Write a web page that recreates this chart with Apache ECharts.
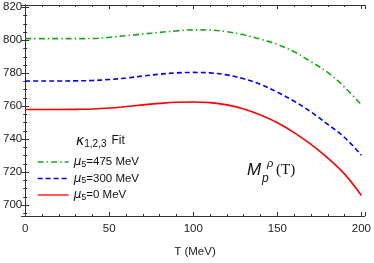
<!DOCTYPE html>
<html><head><meta charset="utf-8">
<script src="https://cdn.jsdelivr.net/npm/echarts@6/dist/echarts.min.js"></script>
<style>html,body{margin:0;padding:0;background:#fff}#c{width:374px;height:263px}</style>
</head><body><div id="c"></div>
<script>
const temps = [0,10,20,30,40,50,60,70,80,90,100,110,120,130,140,150,160,170,180,190,200];
const mu475 = [801,801,801,801,801.1,801.8,802.8,803.8,804.8,805.7,806.3,806.2,805.2,803.3,800.7,797.5,793,787,780.5,771.5,760.8];
const mu300 = [775.3,775.3,775.3,775.4,775.6,776.2,777.1,778.3,779.4,780.2,780.5,780.2,779,776.6,773.2,768.5,763,756.5,749,741,730.3];
const mu0   = [758,758,758,758.1,758.3,758.9,759.8,760.8,761.7,762.4,762.6,762.2,760.8,758.3,754.7,750,744,736.8,728.5,718.8,705.8];
const seriesNames = ['μ5=475 MeV','μ5=300 MeV','μ5=0 MeV'];
const legendValues = ['=475 MeV','=300 MeV','=0 MeV'];
const xTitle = 'T (MeV)';

const pairs = a => temps.map((t,i)=>[t,a[i]]);
const font = 'Liberation Sans, Arial, sans-serif';
const chart = echarts.init(document.getElementById('c'));
chart.setOption({
  animation:false,
  grid:{left:24,right:7,top:5,bottom:44,containLabel:false},
  title:[
    {text:'{k|κ}{s|1,2,3}{f|Fit}',left:76,top:133,padding:0,textStyle:{fontWeight:'normal',rich:{
      k:{fontSize:14,fontFamily:'DejaVu Sans',fontStyle:'italic',fontWeight:'normal',color:'#111'},
      s:{fontSize:10,fontFamily:font,fontWeight:'normal',color:'#111',padding:[6,0,0,0]},
      f:{fontSize:12,fontFamily:font,fontWeight:'normal',color:'#111',padding:[0,0,0,5]}}}},
    {text:'M',left:247,top:162,padding:0,textStyle:{fontSize:17,fontStyle:'italic',fontFamily:font,color:'#111',fontWeight:'normal'}},
    {text:'ρ',left:267,top:158,padding:0,textStyle:{fontSize:11,fontStyle:'italic',fontFamily:font,color:'#111',fontWeight:'normal'}},
    {text:'p',left:262,top:173,padding:0,textStyle:{fontSize:12,fontStyle:'italic',fontFamily:font,color:'#111',fontWeight:'normal'}},
    {text:'(T)',left:276,top:163,padding:0,textStyle:{fontSize:15,fontFamily:'Liberation Serif, serif',color:'#111',fontWeight:'normal'}}
  ],
  legend:{
    orient:'vertical',left:37,top:156,itemWidth:31,itemHeight:14,itemGap:3.5,padding:0,
    data:seriesNames,
    itemStyle:{opacity:0},
    lineStyle:{width:1.3},
    formatter:function(name){const i=seriesNames.indexOf(name);return '{m|μ}{s|5}{t|'+legendValues[i]+'}';},
    textStyle:{rich:{
      m:{fontSize:12,fontStyle:'italic',fontFamily:'DejaVu Sans',color:'#111'},
      s:{fontSize:9,fontFamily:font,color:'#111',padding:[5,0,0,0]},
      t:{fontSize:11.5,fontFamily:font,color:'#111'}}}
  },
  xAxis:[
    {type:'value',min:0,max:202,interval:50,position:'bottom',
      name:xTitle,nameLocation:'middle',nameGap:30,
      nameTextStyle:{fontSize:11.5,fontFamily:font,color:'#222'},
      axisLine:{show:true,lineStyle:{color:'#333'}},axisTick:{show:true,inside:true,length:4,lineStyle:{color:'#333'}},
      axisLabel:{fontSize:11.5,fontFamily:font,color:'#222',margin:7,showMaxLabel:false},
      minorTick:{show:true,splitNumber:5,length:2,lineStyle:{color:'#333'}},splitLine:{show:false}},
    {type:'value',min:0,max:202,interval:50,position:'top',
      axisLine:{show:true,lineStyle:{color:'#333'}},axisTick:{show:true,inside:true,length:4,lineStyle:{color:'#333'}},
      minorTick:{show:true,splitNumber:5,length:2,lineStyle:{color:'#333'}},axisLabel:{show:false},splitLine:{show:false}}
  ],
  yAxis:[
    {type:'value',min:693.4,max:821.4,splitNumber:6,minInterval:20,maxInterval:20,position:'left',
      axisLine:{show:true,lineStyle:{color:'#333'}},axisTick:{show:true,inside:true,length:4,lineStyle:{color:'#333'}},
      minorTick:{show:true,splitNumber:4,length:2,lineStyle:{color:'#333'}},
      axisLabel:{fontSize:11.5,fontFamily:font,color:'#222',margin:3,showMinLabel:false,showMaxLabel:false},splitLine:{show:false}},
    {type:'value',min:693.4,max:821.4,splitNumber:6,minInterval:20,maxInterval:20,position:'right',
      axisLine:{show:true,lineStyle:{color:'#333'}},axisTick:{show:true,inside:true,length:4,lineStyle:{color:'#333'}},
      minorTick:{show:true,splitNumber:4,length:2,lineStyle:{color:'#333'}},axisLabel:{show:false},splitLine:{show:false}}
  ],
  series:[
    {name:seriesNames[0],type:'line',data:pairs(mu475),smooth:0.4,symbol:'none',
      lineStyle:{color:'#1aa81a',width:1.6,type:[6,3,1.5,3]},itemStyle:{color:'#1aa81a'}},
    {name:seriesNames[1],type:'line',data:pairs(mu300),smooth:0.4,symbol:'none',
      lineStyle:{color:'#0000ee',width:1.6,type:[5,3]},itemStyle:{color:'#0000ee'}},
    {name:seriesNames[2],type:'line',data:pairs(mu0),smooth:0.4,symbol:'none',
      lineStyle:{color:'#ff0000',width:1.6,type:'solid'},itemStyle:{color:'#ff0000'}}
  ]
});
</script></body></html>
